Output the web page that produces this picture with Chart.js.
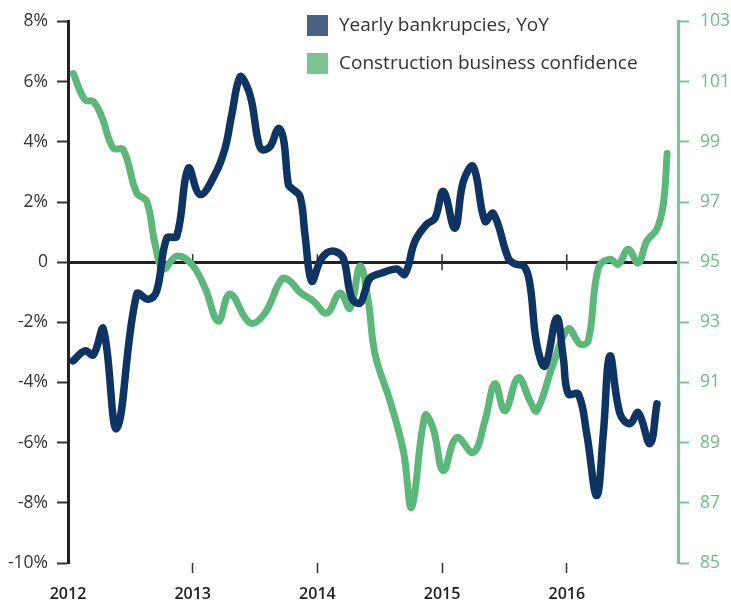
<!DOCTYPE html>
<html>
<head>
<meta charset="utf-8">
<script src="https://cdn.jsdelivr.net/npm/chart.js@4.4.1/dist/chart.umd.min.js"></script>
<style>
body{margin:0;background:#fff}
#wrap{position:relative;width:731px;height:601px}
</style>
</head>
<body>
<div id="wrap"><canvas id="chart"></canvas></div>
<script>
// x values are dates as decimal years
const yearTicks = [2012, 2013, 2014, 2015, 2016]

const bankruptcyDates = [2012.04,2012.136,2012.203,2012.283,2012.391,2012.551,2012.644,2012.711,2012.792,2012.872,
2012.965,2013.059,2013.179,2013.259,2013.313,2013.379,2013.430,2013.473,2013.520,2013.553,
2013.620,2013.686,2013.727,2013.767,2013.794,2013.860,2013.900,2013.954,2014.021,2014.075,
2014.141,2014.208,2014.275,2014.342,2014.382,2014.422,2014.516,2014.636,2014.702,2014.783,
2014.877,2014.943,2015.010,2015.103,2015.170,2015.250,2015.344,2015.411,2015.531,2015.580,
2015.660,2015.705,2015.759,2015.825,2015.919,2015.972,2016.012,2016.092,2016.160,2016.240,
2016.293,2016.346,2016.427,2016.507,2016.573,2016.667,2016.723]
const bankruptcyValues = [-3.28,-2.95,-3.08,-2.22,-5.53,-1.06,-1.23,-0.96,0.80,0.86,
3.12,2.25,2.92,3.78,4.9,6.16,5.89,5.34,4.12,3.75,
3.84,4.44,4.12,2.58,2.45,2.19,0.93,-0.63,0.03,0.31,
0.36,0.13,-1.19,-1.36,-0.96,-0.53,-0.36,-0.23,-0.4,0.70,
1.26,1.46,2.35,1.13,2.68,3.18,1.36,1.62,0.13,-0.05,
-0.15,-0.75,-2.72,-3.45,-1.86,-3.18,-4.38,-4.38,-5.7,-7.76,
-5.7,-3.12,-5.04,-5.37,-5.0,-6.03,-4.71]

const confidenceDates = [2012.043,2012.136,2012.203,2012.270,2012.363,2012.443,2012.551,2012.631,2012.698,2012.764,
2012.872,2012.992,2013.099,2013.205,2013.299,2013.460,2013.580,2013.714,2013.780,2013.860,
2013.967,2014.075,2014.181,2014.262,2014.342,2014.408,2014.462,2014.582,2014.689,2014.756,
2014.863,2014.929,2015.010,2015.117,2015.250,2015.344,2015.424,2015.504,2015.611,2015.705,
2015.759,2015.892,2016.012,2016.106,2016.172,2016.253,2016.346,2016.413,2016.493,2016.573,
2016.641,2016.721,2016.774,2016.805]
const confidenceValues = [101.27,100.39,100.34,99.84,98.79,98.74,97.30,97.02,95.6,94.77,
95.2,94.93,94.14,93.04,93.94,92.98,93.31,94.44,94.37,94.0,
93.71,93.31,93.97,93.47,94.87,93.71,91.95,90.39,88.74,86.85,
89.9,89.46,88.07,89.17,88.67,89.73,90.96,90.06,91.16,90.39,
90.06,91.62,92.78,92.28,92.38,94.8,95.1,94.93,95.43,94.97,
95.7,96.09,96.92,98.61]

const blueLine = "#0d3462"
const greenLine = "#5cb77b"
const legendColors = ["#4a6186", "#7bc391"]

Chart.defaults.font.family = "'Open Sans', sans-serif"

const zeroTicks = {
  id: "zeroTicks",
  beforeDatasetsDraw(chart){
    const x = chart.scales.x, y = chart.scales.y
    const y0 = y.getPixelForValue(0)
    const c = chart.ctx
    c.save()
    c.strokeStyle = "#333"
    c.lineWidth = 1.5
    yearTicks.slice(1).forEach(yr => {
      const px = x.getPixelForValue(yr)
      c.beginPath()
      c.moveTo(px, y0 - 8)
      c.lineTo(px, y0 + 8)
      c.stroke()
    })
    c.restore()
  }
}

const legendBox = {
  id: "legendBox",
  afterDraw(chart){
    const c = chart.ctx
    c.save()
    c.font = "19px 'Open Sans', sans-serif"
    c.textBaseline = "middle"
    chart.data.datasets.forEach((ds, i) => {
      const top = 15 + i * 38
      c.fillStyle = legendColors[i]
      c.fillRect(307, top, 21, 21)
      c.fillStyle = "#333"
      c.fillText(ds.label, 339, top + 11)
    })
    c.restore()
  }
}

new Chart(document.getElementById("chart"), {
  type: "line",
  data: {
    datasets: [
      {
        label: "Yearly bankrupcies, YoY",
        data: bankruptcyDates.map((d, i) => ({x: d, y: bankruptcyValues[i]})),
        borderColor: blueLine,
        borderWidth: 7.5,
        yAxisID: "y"
      },
      {
        label: "Construction business confidence",
        data: confidenceDates.map((d, i) => ({x: d, y: confidenceValues[i]})),
        borderColor: greenLine,
        borderWidth: 7,
        yAxisID: "y2"
      }
    ]
  },
  options: {
    responsive: true,
    maintainAspectRatio: false,
    animation: false,
    layout: { padding: { top: 20 } },
    elements: {
      point: { radius: 0 },
      line: { tension: 0.4, borderCapStyle: "round", borderJoinStyle: "round" }
    },
    plugins: { legend: { display: false }, tooltip: { enabled: false } },
    scales: {
      x: {
        type: "linear",
        min: 2012,
        max: 2016.892,
        afterBuildTicks: s => { s.ticks = yearTicks.map(v => ({value: v})) },
        afterFit: s => { s.height = 38 },
        ticks: {
          padding: 12,
          color: "#222",
          font: { size: 16, weight: "600" },
          callback: v => String(v)
        },
        grid: {
          drawOnChartArea: false,
          tickLength: 10,
          tickWidth: 1.5,
          tickColor: ctx => ctx.tick && ctx.tick.value === 2012 ? "rgba(0,0,0,0)" : "#333"
        },
        border: { display: false }
      },
      y: {
        position: "left",
        min: -10,
        max: 8,
        afterFit: s => { s.width = 68 },
        ticks: {
          stepSize: 2,
          padding: 9,
          color: "#333",
          font: { size: 17.5 },
          callback: v => v === 0 ? "0" : v + "%"
        },
        grid: {
          color: ctx => ctx.tick && ctx.tick.value === 0 ? "#222" : "rgba(0,0,0,0)",
          lineWidth: ctx => ctx.tick && ctx.tick.value === 0 ? 3 : 1,
          tickColor: "#333",
          tickLength: 11,
          tickWidth: 2
        },
        border: { color: "#222", width: 3 }
      },
      y2: {
        position: "right",
        min: 85,
        max: 103,
        afterFit: s => { s.width = 53 },
        ticks: {
          stepSize: 2,
          padding: 11,
          color: "#6dbd88",
          font: { size: 17.5 }
        },
        grid: {
          drawOnChartArea: false,
          tickColor: "#7cc391",
          tickLength: 11,
          tickWidth: 2
        },
        border: { color: "#7cc391", width: 3 }
      }
    }
  },
  plugins: [zeroTicks, legendBox]
})
</script>
</body>
</html>
